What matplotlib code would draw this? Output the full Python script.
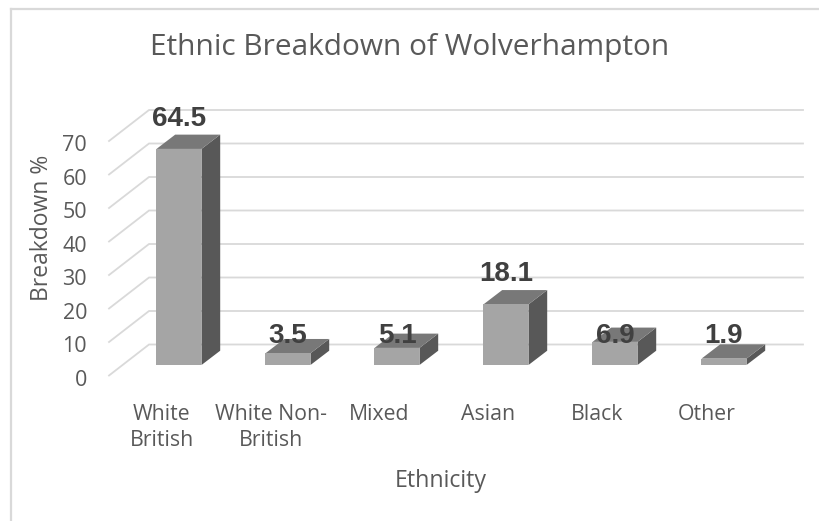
"""3D-style column chart of the ethnic breakdown of Wolverhampton"""

import matplotlib
matplotlib.use("Agg")
import matplotlib.pyplot as plt
from matplotlib.patches import Polygon

categories = ["White\nBritish", "White Non-\nBritish", "Mixed", "Asian", "Black", "Other"]
values = [64.5, 3.5, 5.1, 18.1, 6.9, 1.9]
y_ticks = [0, 10, 20, 30, 40, 50, 60, 70]

front_color = "#a5a5a5"
top_color = "#787878"
side_color = "#585858"
grid_color = "#d9d9d9"
text_color = "#595959"

# pixel scale of the reference: 109 px per category, 3.35 px per unit
px_x, px_y = 109.0, 3.35
bar_w = 45 / px_x
depth_dx, depth_dy = 18.7 / px_x, 14.3 / px_y      # bar depth
floor_dx, floor_dy = 40 / px_x, 31 / px_y          # whole floor depth
front_gap = 10.5 / px_y                            # floor front edge below bar front

fig = plt.figure(figsize=(8.2, 5.21), dpi=100)
ax = fig.add_axes([0, 0, 1, 1])
ax.set_xlim(-179 / px_x, (820 - 179) / px_x)
ax.set_ylim((365 - 521) / px_y, 365 / px_y)
ax.axis("off")

# chart border (only left and top show in the crop)
fig.add_artist(plt.Line2D([11 / 820, 11 / 820], [0, 1 - 8.5 / 521], color=grid_color, lw=1.6))
fig.add_artist(plt.Line2D([11 / 820, 1], [1 - 8.5 / 521, 1 - 8.5 / 521], color=grid_color, lw=1.6))

# gridlines: diagonal on the side wall then horizontal on the back wall
x_front = -0.642
x_back = x_front + floor_dx
x_right = (803 - 179) / px_x
for v in y_ticks:
    y0 = v - front_gap
    y1 = y0 + floor_dy
    ax.plot([x_front, x_back, x_right], [y0, y1, y1], color=grid_color, lw=1.3,
            solid_joinstyle="miter", zorder=1)
    ax.text(-0.844, v - 4.5, str(v), ha="right", va="center", fontsize=15.5,
            color=text_color, family="Open Sans")

for i, v in enumerate(values):
    x0 = i - bar_w / 2
    x1 = i + bar_w / 2
    front = [(x0, 0), (x1, 0), (x1, v), (x0, v)]
    top = [(x0, v), (x1, v), (x1 + depth_dx, v + depth_dy), (x0 + depth_dx, v + depth_dy)]
    side = [(x1, 0), (x1 + depth_dx, depth_dy), (x1 + depth_dx, v + depth_dy), (x1, v)]
    ax.add_patch(Polygon(side, closed=True, fc=side_color, ec="none", zorder=3))
    ax.add_patch(Polygon(top, closed=True, fc=top_color, ec="none", zorder=3))
    ax.add_patch(Polygon(front, closed=True, fc=front_color, ec="none", zorder=3))

    label_y = v + 9 if v > 10 else 8.7
    ax.text(i, label_y, f"{v}", ha="center", va="center", fontsize=20,
            fontweight="bold", color="#404040", family="Liberation Sans", zorder=5)

    ax.text(i - 0.16, -11.6, categories[i], ha="center", va="top", fontsize=15.3,
            color=text_color, family="Open Sans", linespacing=1.3)

fig.text(410 / 820, 1 - 47 / 521, "Ethnic Breakdown of Wolverhampton", ha="center",
         va="center", fontsize=21.5, color=text_color, family="Open Sans")
fig.text(441 / 820, 1 - 481 / 521, "Ethnicity", ha="center", va="center",
         fontsize=16.7, color=text_color, family="Open Sans")
fig.text(42 / 820, 1 - 228 / 521, "Breakdown %", ha="center", va="center",
         rotation=90, fontsize=16.5, color=text_color, family="Open Sans")

fig.savefig("out.png", dpi=100)
